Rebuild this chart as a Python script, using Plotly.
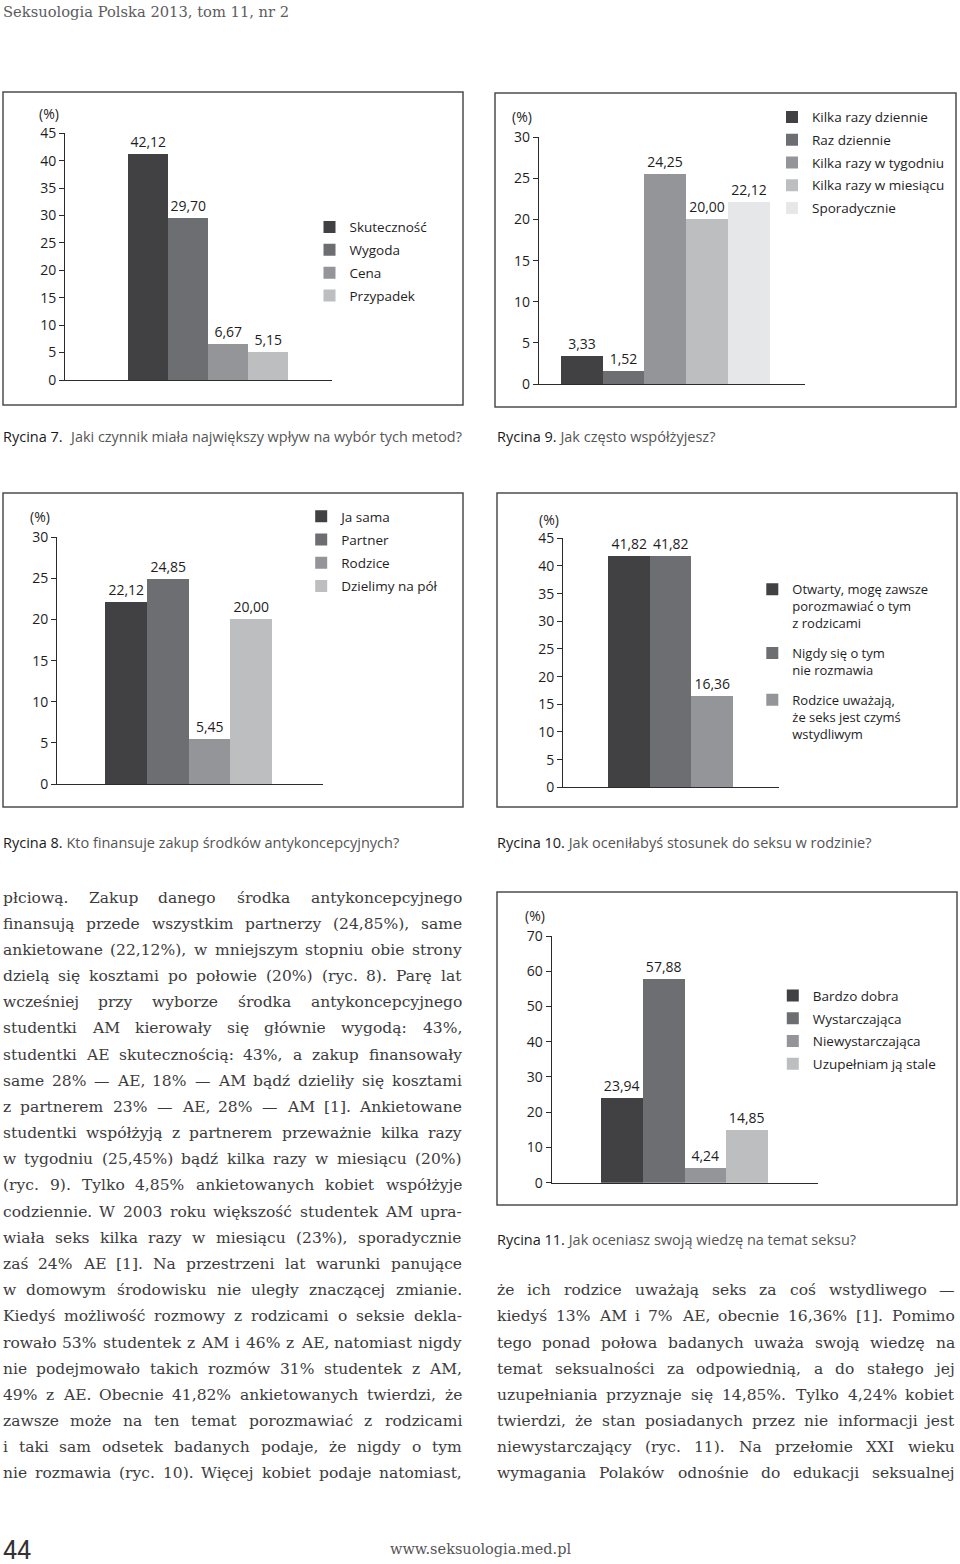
import glob
import struct
import plotly.graph_objects as go

W, H = 960, 1564

# ---------------- data ----------------
c7_categories = ["Skuteczność", "Wygoda", "Cena", "Przypadek"]
c7_values = [41.2, 29.5, 6.6, 5.1]
c7_labels = ["42,12", "29,70", "6,67", "5,15"]

c9_categories = ["Kilka razy dziennie", "Raz dziennie", "Kilka razy w tygodniu",
                 "Kilka razy w miesiącu", "Sporadycznie"]
c9_values = [3.33, 1.52, 25.45, 20.00, 22.12]
c9_labels = ["3,33", "1,52", "24,25", "20,00", "22,12"]

c8_categories = ["Ja sama", "Partner", "Rodzice", "Dzielimy na pół"]
c8_values = [22.12, 24.85, 5.45, 20.00]
c8_labels = ["22,12", "24,85", "5,45", "20,00"]

c10_categories = ["Otwarty, mogę zawsze<br>porozmawiać o tym<br>z rodzicami",
                  "Nigdy się o tym<br>nie rozmawia",
                  "Rodzice uważają,<br>że seks jest czymś<br>wstydliwym"]
c10_values = [41.82, 41.82, 16.36]
c10_labels = ["41,82", "41,82", "16,36"]

c11_categories = ["Bardzo dobra", "Wystarczająca", "Niewystarczająca", "Uzupełniam ją stale"]
c11_values = [23.94, 57.88, 4.24, 14.85]
c11_labels = ["23,94", "57,88", "4,24", "14,85"]

header_text = "Seksuologia Polska 2013, tom 11, nr 2"
captions = [
    ("Rycina 7.", "Jaki czynnik miała największy wpływ na wybór tych metod?"),
    ("Rycina 9.", "Jak często współżyjesz?"),
    ("Rycina 8.", "Kto finansuje zakup środków antykoncepcyjnych?"),
    ("Rycina 10.", "Jak oceniłabyś stosunek do seksu w rodzinie?"),
    ("Rycina 11.", "Jak oceniasz swoją wiedzę na temat seksu?"),
]
left_lines = [
    "płciową. Zakup danego środka antykoncepcyjnego",
    "finansują przede wszystkim partnerzy (24,85%), same",
    "ankietowane (22,12%), w mniejszym stopniu obie strony",
    "dzielą się kosztami po połowie (20%) (ryc. 8). Parę lat",
    "wcześniej przy wyborze środka antykoncepcyjnego",
    "studentki AM kierowały się głównie wygodą: 43%,",
    "studentki AE skutecznością: 43%, a zakup finansowały",
    "same 28% — AE, 18% — AM bądź dzieliły się kosztami",
    "z partnerem 23% — AE, 28% — AM [1]. Ankietowane",
    "studentki współżyją z partnerem przeważnie kilka razy",
    "w tygodniu (25,45%) bądź kilka razy w miesiącu (20%)",
    "(ryc. 9). Tylko 4,85% ankietowanych kobiet współżyje",
    "codziennie. W 2003 roku większość studentek AM upra-",
    "wiała seks kilka razy w miesiącu (23%), sporadycznie",
    "zaś 24% AE [1]. Na przestrzeni lat warunki panujące",
    "w domowym środowisku nie uległy znaczącej zmianie.",
    "Kiedyś możliwość rozmowy z rodzicami o seksie dekla-",
    "rowało 53% studentek z AM i 46% z AE, natomiast nigdy",
    "nie podejmowało takich rozmów 31% studentek z AM,",
    "49% z AE. Obecnie 41,82% ankietowanych twierdzi, że",
    "zawsze może na ten temat porozmawiać z rodzicami",
    "i taki sam odsetek badanych podaje, że nigdy o tym",
    "nie rozmawia (ryc. 10). Więcej kobiet podaje natomiast,",
]
right_lines = [
    "że ich rodzice uważają seks za coś wstydliwego —",
    "kiedyś 13% AM i 7% AE, obecnie 16,36% [1]. Pomimo",
    "tego ponad połowa badanych uważa swoją wiedzę na",
    "temat seksualności za odpowiednią, a do stałego jej",
    "uzupełniania przyznaje się 14,85%. Tylko 4,24% kobiet",
    "twierdzi, że stan posiadanych przez nie informacji jest",
    "niewystarczający (ryc. 11). Na przełomie XXI wieku",
    "wymagania Polaków odnośnie do edukacji seksualnej",
]
page_number = "44"
footer_url = "www.seksuologia.med.pl"

# ---------------- styles ----------------
GRAYS = ["#414042", "#6d6e71", "#939598", "#bcbec0", "#e6e7e8"]
SANS = "Open Sans"
SERIF = "DejaVu Serif"
AX = "#2b2b2b"


# ---------------- font metrics (for justified text) ----------------
def find_font(patterns):
    for p in patterns:
        for root in ("/usr/share/fonts", "/usr/local/share/fonts"):
            hits = sorted(glob.glob(root + "/**/" + p, recursive=True))
            if hits:
                return hits[0]
    return None


def load_measure(path):
    data = open(path, "rb").read()
    num = struct.unpack(">H", data[4:6])[0]
    tables = {}
    for i in range(num):
        off = 12 + 16 * i
        tag = data[off:off + 4].decode("latin1")
        _, toff, tlen = struct.unpack(">III", data[off + 4:off + 16])
        tables[tag] = toff
    head = tables["head"]
    upem = struct.unpack(">H", data[head + 18:head + 20])[0]
    hhea = tables["hhea"]
    nhm = struct.unpack(">H", data[hhea + 34:hhea + 36])[0]
    hm = tables["hmtx"]
    adv = [struct.unpack(">H", data[hm + 4 * i:hm + 4 * i + 2])[0] for i in range(nhm)]
    cm = tables["cmap"]
    nsub = struct.unpack(">H", data[cm + 2:cm + 4])[0]
    o = None
    for i in range(nsub):
        pid, eid, soff = struct.unpack(">HHI", data[cm + 4 + 8 * i:cm + 12 + 8 * i])
        fmt = struct.unpack(">H", data[cm + soff:cm + soff + 2])[0]
        if fmt == 4 and (pid == 3 or pid == 0):
            o = cm + soff
            break
    segx2 = struct.unpack(">H", data[o + 6:o + 8])[0]
    seg = segx2 // 2
    ends = struct.unpack(">%dH" % seg, data[o + 14:o + 14 + segx2])
    starts = struct.unpack(">%dH" % seg, data[o + 16 + segx2:o + 16 + 2 * segx2])
    deltas = struct.unpack(">%dh" % seg, data[o + 16 + 2 * segx2:o + 16 + 3 * segx2])
    rpos = o + 16 + 3 * segx2
    roffs = struct.unpack(">%dH" % seg, data[rpos:rpos + segx2])
    cache = {}

    def gid(c):
        if c in cache:
            return cache[c]
        g = 0
        for k in range(seg):
            if ends[k] >= c:
                if starts[k] <= c:
                    if roffs[k] == 0:
                        g = (c + deltas[k]) & 0xFFFF
                    else:
                        addr = rpos + 2 * k + roffs[k] + 2 * (c - starts[k])
                        g0 = struct.unpack(">H", data[addr:addr + 2])[0]
                        g = (g0 + deltas[k]) & 0xFFFF if g0 else 0
                break
        cache[c] = g
        return g

    def measure(s, size):
        tot = 0
        for ch in s:
            g = gid(ord(ch))
            tot += adv[g] if g < nhm else adv[-1]
        return tot * size / upem

    return measure


def safe_measure(patterns):
    try:
        p = find_font(patterns)
        if p:
            m = load_measure(p)
            if m("abc", 10) > 0:
                return m
    except Exception:
        pass
    return None


m_serif = safe_measure(["DejaVuSerif.ttf"])
m_sans = safe_measure(["OpenSans-Regular.ttf", "OpenSans*wght*.ttf", "OpenSans*.ttf"])
m_narrow = safe_measure(["LiberationSansNarrow-Regular.ttf"])

fig = go.Figure()


def px(x):
    return x / W


def py(y):
    return 1 - y / H


# ---------------- charts ----------------
charts = [
    dict(cats=c7_categories, vals=c7_values, labs=c7_labels, ax=65.3, xend=331.7, y0=380.0,
         ytop=133.3, ymax=45, dt=5, barleft=128.3, bw=40.0, box=(3, 92, 463, 405),
         pct=(48.8, 113.3), leg=(329.5, 226.7), lfs=13.5, gap=2.3),
    dict(cats=c9_categories, vals=c9_values, labs=c9_labels, ax=539.0, xend=805.0, y0=384.0,
         ytop=137.3, ymax=30, dt=5, barleft=561.0, bw=41.7, box=(495, 93, 956, 407),
         pct=(522.0, 116.7), leg=(792.0, 116.7), lfs=13.5, gap=2.2),
    dict(cats=c8_categories, vals=c8_values, labs=c8_labels, ax=57.3, xend=323.3, y0=784.0,
         ytop=537.3, ymax=30, dt=5, barleft=105.7, bw=41.6, box=(3, 493, 463, 807),
         pct=(40.3, 516.7), leg=(321.2, 516.0), lfs=13.5, gap=2.7),
    dict(cats=c10_categories, vals=c10_values, labs=c10_labels, ax=563.3, xend=779.3, y0=787.3,
         ytop=538.3, ymax=45, dt=5, barleft=608.3, bw=41.5, box=(497, 493, 957, 807),
         pct=(549.0, 519.3), leg=(772.3, 589.3), lfs=13.0, gap=10.0),
    dict(cats=c11_categories, vals=c11_values, labs=c11_labels, ax=551.7, xend=818.3, y0=1182.7,
         ytop=936.0, ymax=70, dt=10, barleft=601.0, bw=41.7, box=(497, 892, 957, 1205),
         pct=(535.0, 915.0), leg=(792.8, 995.3), lfs=13.5, gap=2.2),
]

layout_axes = {}
for k, c in enumerate(charts):
    n = k + 1
    xa = "x" if n == 1 else "x%d" % n
    ya = "y" if n == 1 else "y%d" % n
    legname = "legend" if n == 1 else "legend%d" % n
    for i, (cat, v, lab) in enumerate(zip(c["cats"], c["vals"], c["labs"])):
        fig.add_trace(go.Bar(
            x=[i], y=[v], text=[lab], name=cat, width=[1.0],
            marker=dict(color=GRAYS[i], line=dict(width=0)),
            textposition="outside", cliponaxis=False, constraintext="none",
            textfont=dict(family=SANS, size=14, color="#1e1e1e"),
            xaxis=xa, yaxis=ya, legend=legname, legendgroup="g%d_%d" % (n, i),
            hoverinfo="skip", showlegend=True,
        ))
    left = -0.5 - (c["barleft"] - c["ax"]) / c["bw"]
    right = left + (c["xend"] - c["ax"]) / c["bw"]
    layout_axes["xaxis" if n == 1 else "xaxis%d" % n] = dict(
        domain=[px(c["ax"]), px(c["xend"])], range=[left, right], anchor=ya,
        showline=True, linecolor=AX, linewidth=1.3, showticklabels=False, ticks="",
        showgrid=False, zeroline=False, fixedrange=True, automargin=False)
    layout_axes["yaxis" if n == 1 else "yaxis%d" % n] = dict(
        domain=[py(c["y0"]), py(c["ytop"])], range=[0, c["ymax"]], anchor=xa,
        showline=True, linecolor=AX, linewidth=1.3, ticks="outside", ticklen=5,
        tickwidth=1.3, tickcolor=AX, tickvals=list(range(0, c["ymax"] + 1, c["dt"])),
        tickfont=dict(family=SANS, size=14, color="#1e1e1e"),
        showgrid=False, zeroline=False, fixedrange=True, automargin=False)
    lx, ly = c["leg"]
    layout_axes[legname] = dict(
        x=px(lx - 20), y=py(ly - 15), xanchor="left", yanchor="top",
        bgcolor="rgba(0,0,0,0)", borderwidth=0, traceorder="grouped",
        tracegroupgap=c["gap"], valign="top",
        font=dict(family=SANS, size=c["lfs"], color="#1e1e1e"),
        itemclick=False, itemdoubleclick=False)
    x0, y0b, x1, y1b = c["box"]
    fig.add_shape(type="rect", xref="paper", yref="paper", x0=px(x0), x1=px(x1),
                  y0=py(y1b), y1=py(y0b), line=dict(color="#4d4d4d", width=1.5),
                  fillcolor="rgba(0,0,0,0)", layer="below")
    fig.add_annotation(x=px(c["pct"][0]), y=py(c["pct"][1]), xref="paper", yref="paper",
                       text="(%)", showarrow=False, xanchor="center", yanchor="middle",
                       font=dict(family=SANS, size=14, color="#1e1e1e"))


def ann(x, y, text, size, family, color, xanchor="left"):
    fig.add_annotation(x=px(x), y=py(y), xref="paper", yref="paper", text=text,
                       showarrow=False, xanchor=xanchor, yanchor="middle",
                       borderpad=0, borderwidth=0,
                       font=dict(family=family, size=size, color=color))


# ---------------- header / captions / footer ----------------
hsize = 287 / m_serif(header_text, 1) if m_serif else 14
ann(2.7, 11, header_text, min(hsize, 16), SERIF, "#5c5c5c")

# caption 7 (condensed rest)
ann(3, 436, captions[0][0], 14.5, SANS, "#1a1a1a")
rest7 = captions[0][1]
if m_narrow:
    ann(462, 436, rest7, min(16.5, 392 / m_narrow(rest7, 1)),
        "Liberation Sans Narrow", "#555555", xanchor="right")
else:
    s7 = min(14.5, 392 / m_sans(rest7, 1)) if m_sans else 12.5
    ann(462, 436, rest7, s7, SANS, "#555555", xanchor="right")

cap_pos = [(497, 436), (3, 842), (497, 842), (497, 1239)]
for (head, rest), (cx, cy) in zip(captions[1:], cap_pos):
    ann(cx, cy, "<span style='color:#1a1a1a'>%s</span> %s" % (head, rest), 14.5, SANS, "#555555")

ann(3, 1550, page_number, 25, "Liberation Sans Narrow, Roboto, sans-serif", "#333333")
usize = 183 / m_serif(footer_url, 1) if m_serif else 13
ann(480.5, 1549, footer_url, min(usize, 15), SERIF, "#555555", xanchor="center")

# ---------------- body text (justified) ----------------
BODY_COLOR = "#3c3c3c"
LX0, LX1 = 2.7, 461.7
RX0, RX1 = 496.7, 955.0
LY0, DY = 897.5, 26.18
RY0 = LY0 + 15 * DY

if m_serif:
    widest = max(m_serif(l, 1) for l in left_lines + right_lines)
    bsize = min(15.5, 0.985 * 458 / widest)
else:
    bsize = 14


def justified(lines, x0, x1, y0):
    for i, line in enumerate(lines):
        yy = y0 + i * DY
        if not m_serif:
            ann(x0, yy, line, bsize, SERIF, BODY_COLOR)
            continue
        words = line.split(" ")
        ws = [m_serif(w, bsize) for w in words]
        gap = (x1 - x0 - sum(ws)) / max(1, len(words) - 1)
        x = x0
        for j, (w, wd) in enumerate(zip(words, ws)):
            if j == len(words) - 1 and j > 0:
                ann(x1, yy, w, bsize, SERIF, BODY_COLOR, xanchor="right")
            else:
                ann(x, yy, w, bsize, SERIF, BODY_COLOR)
            x += wd + gap


justified(left_lines, LX0, LX1, LY0)
justified(right_lines, RX0, RX1, RY0)

fig.update_layout(
    width=W, height=H, autosize=False,
    margin=dict(l=0, r=0, t=0, b=0, pad=0, autoexpand=False),
    paper_bgcolor="white", plot_bgcolor="rgba(0,0,0,0)",
    barmode="overlay", bargap=0, showlegend=True,
    font=dict(family=SANS, color="#1e1e1e"),
    **layout_axes,
)

fig.write_html(
    "out.html",
    config={"displayModeBar": False, "responsive": False},
    post_script=("document.documentElement.style.margin='0';"
                 "document.documentElement.style.padding='0';"
                 "document.documentElement.style.overflow='hidden';"
                 "document.body.style.margin='0';"
                 "document.body.style.padding='0';"
                 "document.body.style.overflow='hidden';"),
)
